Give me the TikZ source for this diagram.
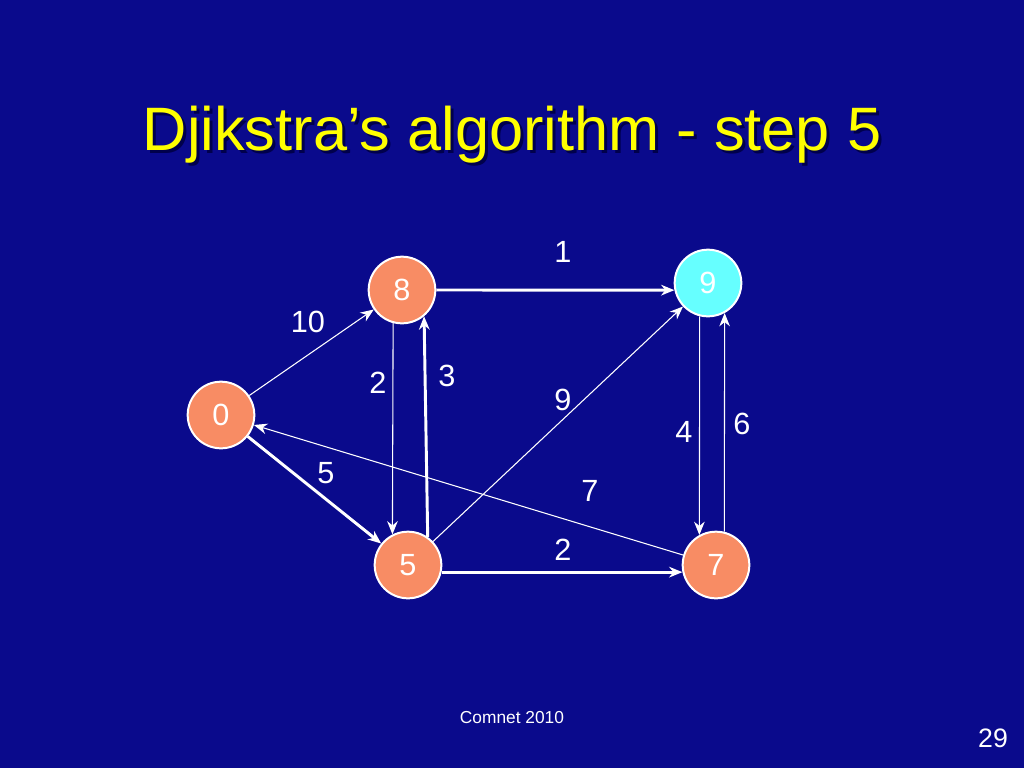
\documentclass[tikz,border=0pt]{standalone}
\usepackage{fontspec}
\setmainfont{Liberation Sans}
\usetikzlibrary{arrows.meta}
\definecolor{bg}{RGB}{10,10,140}
\definecolor{salmon}{RGB}{248,140,100}
\definecolor{cyanf}{RGB}{102,255,255}
\definecolor{ttl}{RGB}{255,255,0}
\begin{document}
\begin{tikzpicture}[x=0.75pt,y=-0.75pt,
 vtx/.style={circle,draw=white,line width=1.5pt,fill=salmon,minimum size=50pt,inner sep=0pt,text=white,font=\fontsize{23}{23}\selectfont},
 lbl/.style={text=white,font=\fontsize{23}{23}\selectfont},
 thin/.style={draw=white,line width=0.8pt,-{Stealth[length=10pt,width=8pt]}},
 thick/.style={draw=white,line width=2.2pt,-{Stealth[length=10pt,width=8pt]}}]
\fill[bg] (0,0) rectangle (1024,768);
\useasboundingbox (0,0) rectangle (1024,768);
\node[text=black!70!blue,font=\fontsize{46}{46}\selectfont] (shadow) at (515,138) {Djikstra’s algorithm - step 5};
\node[text=ttl,font=\fontsize{46}{46}\selectfont] (title) at (512,135) {Djikstra’s algorithm - step 5};
\node[vtx] (n0) at (221,415) {0};
\node[vtx] (n8) at (402,290) {8};
\node[vtx,fill=cyanf] (n9) at (708,283) {9};
\node[vtx] (n5) at (408,565) {5};
\node[vtx] (n7) at (716,565) {7};
\draw[thin] (n0) -- (n8);
\draw[thick] (n8.east) -- (n9.192);
\draw[thin] (n8.-105) -- (n5.117);
\draw[thick] (n5.55) -- (n8.-50);
\draw[thick] (n0) -- (n5);
\draw[thin] (n5) -- (n9);
\draw[thin] (n9.-104) -- (n7.119);
\draw[thin] (n7.76) -- (n9.-61);
\draw[thin] (n7) -- (n0);
\draw[thick] (n5.-12) -- (n7.192);
\node[lbl] (l10) at (308,322) {10};
\node[lbl] (l1) at (563,252) {1};
\node[lbl] (l2a) at (378,383) {2};
\node[lbl] (l3) at (447,376) {3};
\node[lbl] (l5) at (326,473) {5};
\node[lbl] (l9) at (563,400) {9};
\node[lbl] (l4) at (684,432) {4};
\node[lbl] (l6) at (742,424) {6};
\node[lbl] (l7) at (590,491) {7};
\node[lbl] (l2b) at (563,550) {2};
\node[text=white,font=\fontsize{13}{13}\selectfont] (foot) at (512,718) {Comnet 2010};
\node[text=white,font=\fontsize{20}{20}\selectfont] (pg) at (993,738) {29};
\end{tikzpicture}
\end{document}
